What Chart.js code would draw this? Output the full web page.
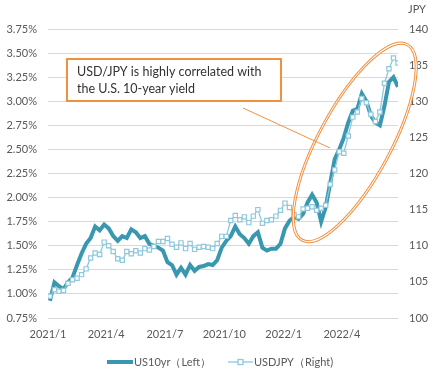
<!DOCTYPE html>
<html>
<head>
<meta charset="utf-8">
<script src="https://cdn.jsdelivr.net/npm/chart.js@4"></script>
<style>
  html, body { margin: 0; padding: 0; background: #fff; }
  #wrap { width: 443px; height: 383px; }
</style>
</head>
<body>
<div id="wrap"><canvas id="myChart"></canvas></div>
<script>
// weekly observations, first one on 2021-01-04 (day 3 counted from 2021-01-01)
const firstDay = 3;
const us10yr = [
  0.93, 1.12, 1.08, 1.05, 1.12, 1.17, 1.30, 1.42, 1.52, 1.58,
  1.70, 1.66, 1.72, 1.68, 1.60, 1.55, 1.60, 1.58, 1.67, 1.64,
  1.58, 1.60, 1.52, 1.50, 1.48, 1.45, 1.33, 1.30, 1.20, 1.27,
  1.20, 1.30, 1.24, 1.28, 1.29, 1.31, 1.30, 1.35, 1.48, 1.55,
  1.60, 1.70, 1.62, 1.58, 1.52, 1.60, 1.64, 1.48, 1.45, 1.47,
  1.47, 1.52, 1.68, 1.76, 1.80, 1.78, 1.83, 1.95, 2.03, 1.95,
  1.75, 1.90, 2.15, 2.40, 2.50, 2.62, 2.78, 2.90, 2.92, 3.08,
  3.00, 2.85, 2.78, 2.75, 2.95, 3.20, 3.25, 3.15
];
const usdjpy = [
  103.0, 103.9, 103.7, 103.8, 104.8, 105.3, 105.5, 106.0, 106.8, 108.3,
  109.0, 108.8, 110.5, 110.0, 109.2, 108.2, 108.0, 109.2, 108.9, 109.3,
  109.0, 109.6, 109.4, 109.9, 110.6, 110.6, 111.0, 110.2, 109.8, 110.4,
  109.6, 110.3, 109.5, 109.8, 109.9, 109.8, 109.6, 110.3, 111.3, 111.3,
  113.5, 114.2, 113.6, 114.0, 113.2, 114.1, 115.0, 113.1, 113.5, 113.6,
  114.1, 114.9, 115.9, 115.3, 114.3, 114.0, 115.1, 115.2, 115.4, 114.9,
  115.2, 115.6, 118.5, 120.5, 123.0, 122.8, 125.2, 127.8, 128.5, 130.4,
  129.8, 128.2, 127.2, 128.5, 132.5, 134.5, 136.0, 135.3
];
const tickDays = [0, 90, 181, 273, 365, 455];
const tickLabels = ["2021/1", "2021/4", "2021/7", "2021/10", "2022/1", "2022/4"];
const legendLabels = ["US10yr（Left）", "USDJPY（Right)"];
const noteLines = ["USD/JPY is highly correlated with", "the U.S. 10-year yield"];

const darkBlue = "#3a97b0";
const lightBlue = "#8ec8dc";
const orange = "#f0913f";
const textGray = "#595959";

const days = us10yr.map((v, i) => firstDay + i * 7);

const extras = {
  id: "extras",
  afterDatasetsDraw(chart) {
    const { ctx, scales } = chart;
    const xs = scales.x, yr = scales.y1;
    ctx.save();

    // ellipse round the 2022 rise
    const cx = xs.getPixelForValue(475), cy = yr.getPixelForValue(124.3);
    ctx.translate(cx, cy);
    ctx.rotate(-61.7 * Math.PI / 180);
    ctx.beginPath();
    ctx.ellipse(0, 0, 111, 36, 0, 0, Math.PI * 2);
    ctx.strokeStyle = orange;
    ctx.lineWidth = 3;
    ctx.stroke();
    ctx.strokeStyle = "#fff";
    ctx.lineWidth = 1;
    ctx.stroke();
    ctx.setTransform(1, 0, 0, 1, 0, 0);

    // callout line
    ctx.beginPath();
    ctx.moveTo(243, 108);
    ctx.lineTo(330, 148);
    ctx.strokeStyle = orange;
    ctx.lineWidth = 1;
    ctx.stroke();

    // note box
    ctx.fillStyle = "#fff";
    ctx.fillRect(67, 59, 214, 42);
    ctx.strokeStyle = orange;
    ctx.lineWidth = 2;
    ctx.strokeRect(67, 59, 214, 42);
    ctx.fillStyle = "#333";
    ctx.font = "12.5px Lato";
    ctx.textBaseline = "middle";
    ctx.fillText(noteLines[0], 77, 72);
    ctx.fillText(noteLines[1], 77, 89);

    // right axis unit
    ctx.fillStyle = textGray;
    ctx.font = "11px Lato";
    ctx.fillText("JPY", 408, 9);

    // legend
    const ly = 362;
    ctx.beginPath();
    ctx.moveTo(107, ly);
    ctx.lineTo(133, ly);
    ctx.strokeStyle = darkBlue;
    ctx.lineWidth = 4;
    ctx.stroke();
    ctx.fillText(legendLabels[0], 134, ly);

    ctx.beginPath();
    ctx.moveTo(228, ly);
    ctx.lineTo(253, ly);
    ctx.strokeStyle = lightBlue;
    ctx.lineWidth = 1.3;
    ctx.stroke();
    ctx.fillStyle = "#fff";
    ctx.fillRect(238, ly - 2.5, 5, 5);
    ctx.strokeRect(238, ly - 2.5, 5, 5);
    ctx.fillStyle = textGray;
    ctx.fillText(legendLabels[1], 254, ly);
    ctx.restore();
  }
};

const config = {
  type: "line",
  data: {
    datasets: [
      {
        label: legendLabels[1],
        data: days.map((d, i) => ({ x: d, y: usdjpy[i] })),
        yAxisID: "y1",
        borderColor: lightBlue,
        borderWidth: 1.3,
        pointStyle: "rect",
        pointRadius: 3,
        pointBorderWidth: 1.2,
        pointBackgroundColor: "#fff",
        pointBorderColor: lightBlue,
        tension: 0,
        order: 0,
      },
      {
        label: legendLabels[0],
        data: days.map((d, i) => ({ x: d, y: us10yr[i] })),
        yAxisID: "y",
        borderColor: darkBlue,
        borderWidth: 4,
        pointRadius: 0,
        tension: 0,
        order: 1,
      },
    ],
  },
  options: {
    responsive: true,
    maintainAspectRatio: false,
    animation: false,
    devicePixelRatio: 1,
    layout: { padding: { top: 29, bottom: 35, left: 0, right: 0 } },
    plugins: { legend: { display: false }, tooltip: { enabled: false } },
    scales: {
      x: {
        type: "linear",
        min: 0,
        max: 542,
        grid: { display: false, drawTicks: false },
        border: { display: false },
        afterBuildTicks: (s) => { s.ticks = tickDays.map((v) => ({ value: v })); },
        afterFit: (s) => { s.height = 30; },
        ticks: {
          autoSkip: false,
          maxRotation: 0,
          padding: 10,
          color: textGray,
          font: { family: "Lato", size: 11 },
          callback: (v) => tickLabels[tickDays.indexOf(v)],
        },
      },
      y: {
        position: "left",
        min: 0.75,
        max: 3.75,
        grid: { color: "#d9d9d9", lineWidth: 1, drawTicks: false },
        border: { display: false },
        afterFit: (s) => { s.width = 48; },
        ticks: {
          stepSize: 0.25,
          padding: 11,
          color: textGray,
          font: { family: "Lato", size: 11 },
          callback: (v) => v.toFixed(2) + "%",
        },
      },
      y1: {
        position: "right",
        min: 100,
        max: 140,
        grid: { display: false, drawTicks: false },
        border: { display: false },
        afterFit: (s) => { s.width = 45; },
        ticks: {
          stepSize: 5,
          padding: 11,
          color: textGray,
          font: { family: "Lato", size: 11 },
        },
      },
    },
  },
  plugins: [extras],
};

const myChart = new Chart(document.getElementById("myChart"), config);
</script>
</body>
</html>
